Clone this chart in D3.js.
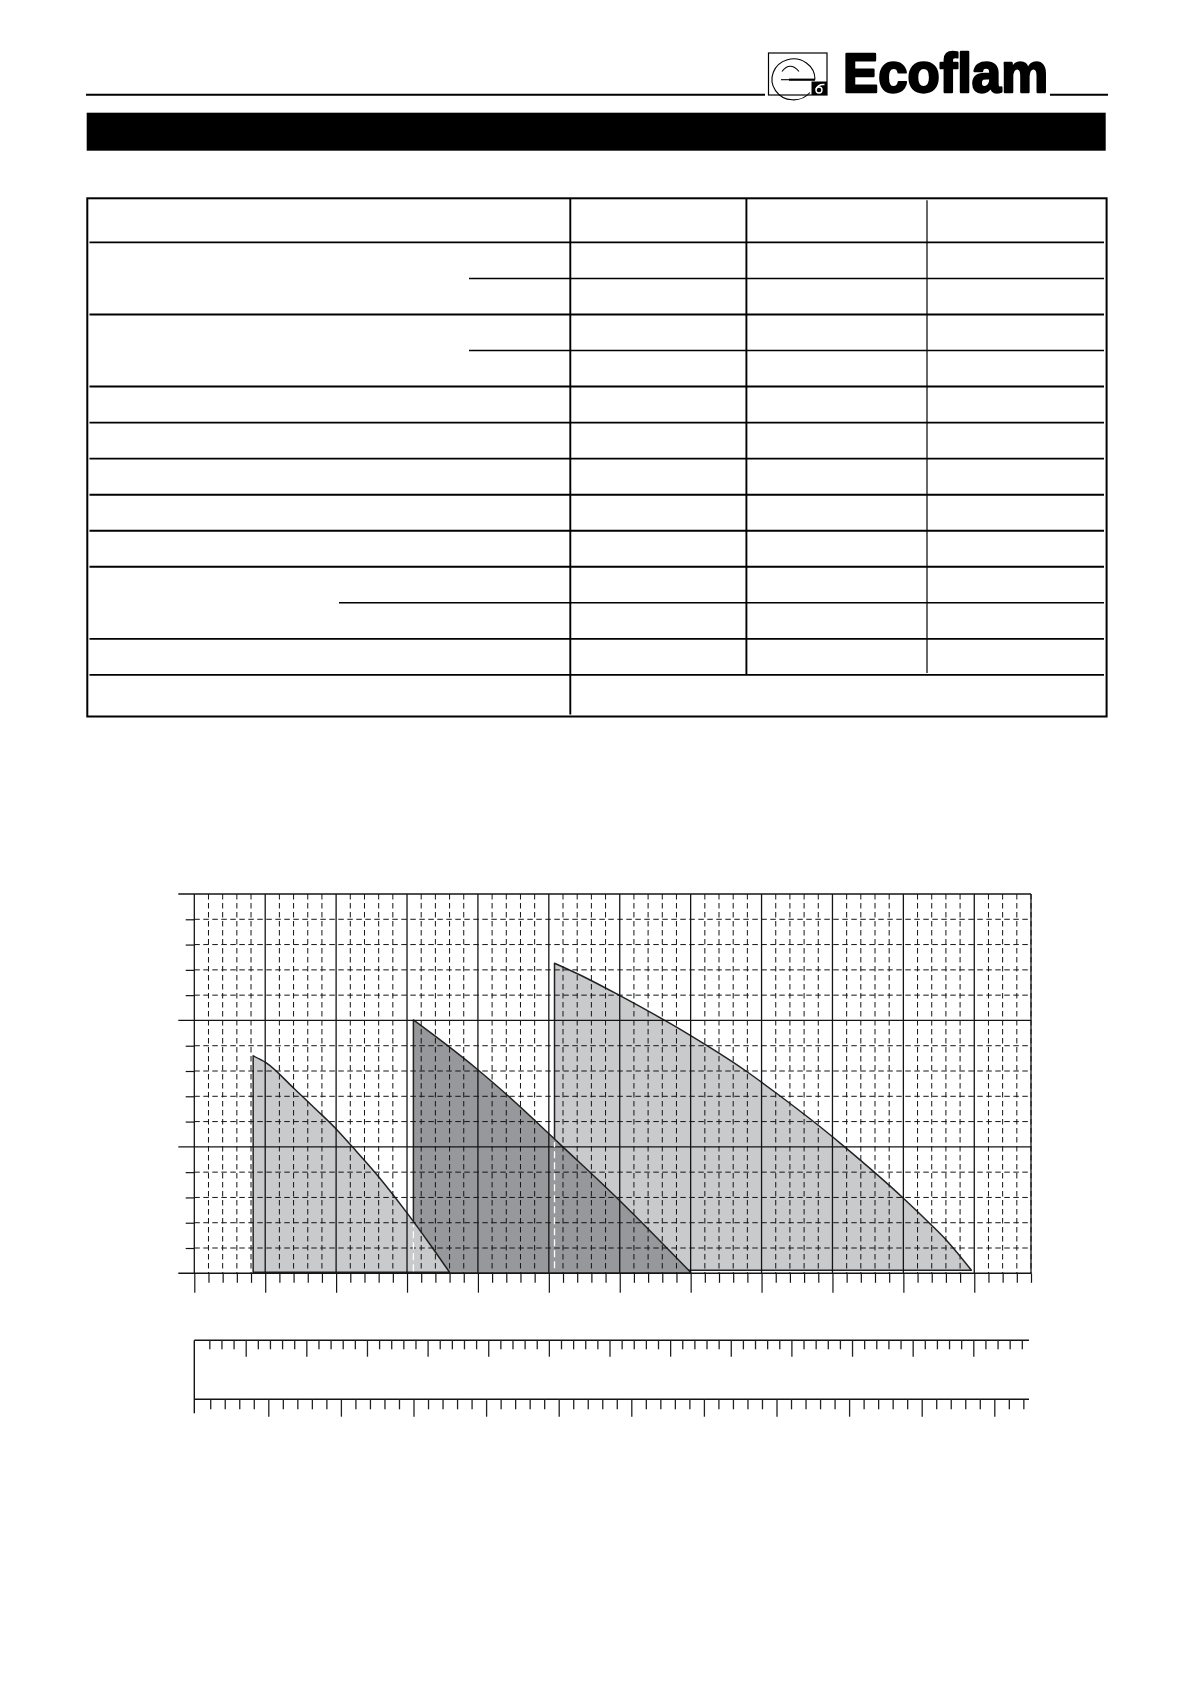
<!DOCTYPE html>
<html><head><meta charset="utf-8">
<script src="https://cdn.jsdelivr.net/npm/d3@7"></script>
<style>html,body{margin:0;padding:0;background:#fff}svg{display:block}</style>
</head><body>
<svg id="page" width="1190" height="1684"></svg>
<script>
// ---------------- DATA ----------------
const modelNames = ["Model 1", "Model 2", "Model 3"];
// output (x, thousand kcal/h) and chamber pressure (y) along each working-field curve
const model1Output   = [183, 201, 241, 271, 301, 323, 357, 401, 431, 460];
const model1Pressure = [8.6, 8.33, 7.3, 6.5, 5.68, 5.0, 3.92, 2.35, 1.2, 0.04];
const model2Output   = [409, 456, 499, 536, 599, 616, 699, 800];
const model2Pressure = [10.02, 9.03, 8.07, 7.18, 5.55, 5.1, 2.90, 0.04];
const model3Output   = [608, 654, 699, 771, 800, 877, 921, 1000, 1018, 1100, 1138, 1161, 1196];
const model3Pressure = [12.26, 11.66, 11.0, 9.88, 9.40, 8.02, 7.12, 5.40, 4.98, 2.97, 1.95, 1.3, 0.12];
const modelBase      = [0.04, 0.0, 0.12];
const modelFill      = ["#c9cacc", "#97989b", "#c9cacc"];

// main axis ticks (thousand kcal/h) and pressure ticks
const outputMajorTicks = [100, 200, 300, 400, 500, 600, 700, 800, 900, 1000, 1100, 1200];
const outputMinorTicks = d3.range(120, 1281, 20).filter(v => v % 100 !== 0);
const pressureMajorTicks = [0, 5, 10, 15];
const pressureMinorTicks = [1, 2, 3, 4, 6, 7, 8, 9, 11, 12, 13, 14];
// secondary scales: kW and kg/h
const kwMajorTicks = [200, 300, 400, 500, 600, 700, 800, 900, 1000, 1100, 1200, 1300, 1400];
const kwMinorTicks = d3.range(140, 1481, 20).filter(v => v % 100 !== 0);
const kghMajorTicks = [20, 30, 40, 50, 60, 70, 80, 90, 100, 110, 120];
const kghMinorTicks = d3.range(12, 125, 2).filter(v => v % 10 !== 0);

// ---------------- LAYOUT ----------------
const svg = d3.select("#page");
const ink = "#141414";

// header
svg.append("line").attr("x1", 86).attr("x2", 765).attr("y1", 94.7).attr("y2", 94.7)
  .attr("stroke", "#000").attr("stroke-width", 2);
svg.append("line").attr("x1", 1050).attr("x2", 1108).attr("y1", 94.7).attr("y2", 94.7)
  .attr("stroke", "#000").attr("stroke-width", 2);
// logo box
const logo = svg.append("g");
logo.append("rect").attr("x", 768.5).attr("y", 53).attr("width", 58.5).attr("height", 42)
  .attr("fill", "#fff").attr("stroke", "#000").attr("stroke-width", 1.2);
logo.append("path").attr("d", "M815,79.5 A21.5,20.5 0 1 0 810,92.5")
  .attr("fill", "none").attr("stroke", "#000").attr("stroke-width", 1.1);
logo.append("path").attr("d", "M782,71.5 Q790,61 799,71.5")
  .attr("fill", "none").attr("stroke", "#000").attr("stroke-width", 1.1);
logo.append("line").attr("x1", 781).attr("x2", 789).attr("y1", 79.7).attr("y2", 79.7)
  .attr("stroke", "#000").attr("stroke-width", 1.1);
logo.append("line").attr("x1", 789).attr("x2", 815).attr("y1", 79.7).attr("y2", 79.7)
  .attr("stroke", "#000").attr("stroke-width", 2.2);
logo.append("rect").attr("x", 811.5).attr("y", 81.5).attr("width", 15.5).attr("height", 13.5).attr("fill", "#000");
logo.append("circle").attr("cx", 819).attr("cy", 90).attr("r", 3).attr("fill", "none")
  .attr("stroke", "#fff").attr("stroke-width", 1.4);
logo.append("path").attr("d", "M816,89.5 Q817.5,84 824.5,84.5").attr("fill", "none")
  .attr("stroke", "#fff").attr("stroke-width", 1.4);
svg.append("text").attr("x", 843).attr("y", 92.3)
  .attr("font-family", "'Liberation Sans', Arial, sans-serif").attr("font-weight", "bold")
  .attr("font-size", 55).attr("textLength", 205).attr("lengthAdjust", "spacingAndGlyphs")
  .attr("stroke", "#000").attr("stroke-width", 2.4).attr("stroke-linejoin", "round")
  .attr("fill", "#000").text("Ecoflam");

// black title bar
svg.append("rect").attr("x", 86.7).attr("y", 112.7).attr("width", 1019).attr("height", 38).attr("fill", "#000");

// table
const tbl = svg.append("g").attr("stroke", "#000").attr("fill", "none");
const tL = 87.3, tR = 1106.6, tT = 198.3, tB = 716.5;
tbl.append("rect").attr("x", tL).attr("y", tT).attr("width", tR - tL).attr("height", tB - tT).attr("stroke-width", 2);
const rowY = d3.range(13).map(i => 242.4 + i * 36.04);
const rowStart = rowY.map((y, i) => (i === 1 || i === 3) ? 469 : (i === 10 ? 339 : 89.5));
rowY.forEach((y, i) => {
  tbl.append("line").attr("x1", rowStart[i]).attr("x2", 1104).attr("y1", y).attr("y2", y)
    .attr("stroke-width", (i === 1 || i === 3 || i === 10) ? 1.5 : 1.9);
});
tbl.append("line").attr("x1", 570.3).attr("x2", 570.3).attr("y1", tT).attr("y2", 714.5).attr("stroke-width", 1.9);
tbl.append("line").attr("x1", 746.4).attr("x2", 746.4).attr("y1", tT).attr("y2", rowY[12]).attr("stroke-width", 1.9);
tbl.append("line").attr("x1", 927).attr("x2", 927).attr("y1", 200.3).attr("y2", 673).attr("stroke-width", 1.2);

// ---------------- CHART ----------------
const x = d3.scaleLinear().domain([100, 1280]).range([194.3, 1031]);
const y = d3.scaleLinear().domain([0, 15]).range([1273.3, 894]);
const xKW = d3.scaleLinear().domain([200, 1400]).range([245.7, 973.3]);
const xKGH = d3.scaleLinear().domain([20, 120]).range([268.3, 994.3]);

const chart = svg.append("g");

// shaded working fields, drawn back (model 3) to front (model 1)
const models = [
  { xs: model1Output, ys: model1Pressure },
  { xs: model2Output, ys: model2Pressure },
  { xs: model3Output, ys: model3Pressure }
];
const area = (m, i) => d3.area()
  .x(d => x(d[0])).y0(y(modelBase[i])).y1(d => y(d[1]))
  .curve(d3.curveMonotoneX)(d3.zip(m.xs, m.ys));
[2, 1, 0].forEach(i => {
  chart.append("path").attr("d", area(models[i], i))
    .attr("fill", modelFill[i]).attr("stroke", "#222").attr("stroke-width", 1.5)
    .attr("stroke-linejoin", "round");
});

// grid: dashed minors
const grid = chart.append("g").attr("stroke", ink).attr("fill", "none");
grid.selectAll(".vminor").data(outputMinorTicks).join("line")
  .attr("x1", d => x(d)).attr("x2", d => x(d)).attr("y1", y(15)).attr("y2", y(0))
  .attr("stroke-width", 1).attr("stroke-dasharray", "5.5,3.5");
grid.selectAll(".hminor").data(pressureMinorTicks).join("line")
  .attr("x1", x(100)).attr("x2", x(1280)).attr("y1", d => y(d)).attr("y2", d => y(d))
  .attr("stroke-width", 1).attr("stroke-dasharray", "5.5,3.5");
// solid majors
grid.selectAll(".vmajor").data(outputMajorTicks.concat([1280])).join("line")
  .attr("x1", d => x(d)).attr("x2", d => x(d)).attr("y1", y(15)).attr("y2", y(0))
  .attr("stroke-width", 1.3);
grid.selectAll(".hmajor").data(pressureMajorTicks).join("line")
  .attr("x1", x(100) - 16).attr("x2", x(1280)).attr("y1", d => y(d)).attr("y2", d => y(d))
  .attr("stroke-width", d => d === 0 ? 1.6 : 1.3);

// left pressure ticks
const yAxisMinor = d3.axisLeft(y).tickValues(pressureMinorTicks).tickSize(8.6).tickSizeOuter(0).tickFormat("");
const ga = chart.append("g").attr("transform", `translate(${x(100)},0)`).call(yAxisMinor);
ga.select(".domain").remove();
ga.selectAll("line").attr("stroke", ink).attr("stroke-width", 1.2);

// bottom output ticks
const xAxisMinor = d3.axisBottom(x).tickValues(outputMinorTicks).tickSize(9.5).tickSizeOuter(0).tickFormat("");
const xAxisMajor = d3.axisBottom(x).tickValues(outputMajorTicks).tickSize(19.4).tickSizeOuter(0).tickFormat("");
[xAxisMinor, xAxisMajor].forEach(ax => {
  const g = chart.append("g").attr("transform", `translate(0,${y(0)})`).call(ax);
  g.select(".domain").remove();
  g.selectAll("line").attr("stroke", ink).attr("stroke-width", 1.2);
});

// white dashed borders where a field's left edge lies inside the field in front of it
function curveAt(m, xv) {
  const i = d3.bisectLeft(m.xs, xv);
  if (i <= 0) return m.ys[0];
  if (i >= m.xs.length) return m.ys[m.ys.length - 1];
  const t = (xv - m.xs[i - 1]) / (m.xs[i] - m.xs[i - 1]);
  return m.ys[i - 1] + t * (m.ys[i] - m.ys[i - 1]);
}
[[1, 0], [2, 1]].forEach(([back, front]) => {
  const xv = models[back].xs[0];
  chart.append("line").attr("x1", x(xv)).attr("x2", x(xv))
    .attr("y1", y(modelBase[back]) - 2).attr("y2", y(curveAt(models[front], xv)) + 3)
    .attr("stroke", "#fff").attr("stroke-width", 1.3).attr("stroke-dasharray", "7,4");
});

// secondary scales
const sec = svg.append("g");
const kwY = 1340.3, kghY = 1399.3;
const xEnd = 1029;
sec.append("line").attr("x1", x(100)).attr("x2", x(100)).attr("y1", kwY).attr("y2", 1413.3)
  .attr("stroke", ink).attr("stroke-width", 1.4);
sec.append("line").attr("x1", x(100)).attr("x2", xEnd).attr("y1", kwY).attr("y2", kwY)
  .attr("stroke", ink).attr("stroke-width", 1.4);
sec.append("line").attr("x1", x(100)).attr("x2", xEnd).attr("y1", kghY).attr("y2", kghY)
  .attr("stroke", ink).attr("stroke-width", 1.4);
[
  [d3.axisBottom(xKW).tickValues(kwMinorTicks).tickSize(9), kwY],
  [d3.axisBottom(xKW).tickValues(kwMajorTicks).tickSize(16.4), kwY],
  [d3.axisBottom(xKGH).tickValues(kghMinorTicks).tickSize(10), kghY],
  [d3.axisBottom(xKGH).tickValues(kghMajorTicks).tickSize(17.4), kghY]
].forEach(([ax, yy]) => {
  const g = sec.append("g").attr("transform", `translate(0,${yy})`)
    .call(ax.tickSizeOuter(0).tickFormat(""));
  g.select(".domain").remove();
  g.selectAll("line").attr("stroke", "#222").attr("stroke-width", 1.3);
});
</script>
</body></html>
